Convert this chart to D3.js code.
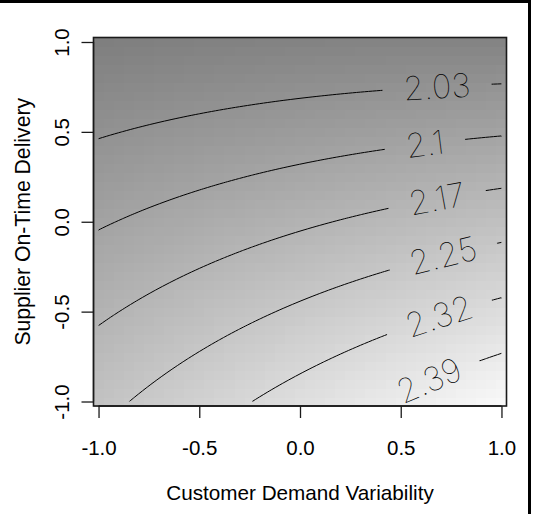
<!DOCTYPE html>
<html>
<head>
<meta charset="utf-8">
<script src="https://cdn.jsdelivr.net/npm/d3@7"></script>
<style>
  html, body { margin: 0; padding: 0; background: #fff; }
  svg { display: block; font-family: "Liberation Sans", Arial, sans-serif; }
</style>
</head>
<body>
<div id="chart"></div>
<script>
// fitted quadratic response surface, coefficients
const coefNames  = ["(Intercept)", "x", "y", "x^2", "y^2", "x:y"];
const coefValues = [2.1642, 0.061, -0.1885, -0.0065, -0.008, -0.050];

// contour levels and the text R printed on them
const contourLevels = [2.031, 2.103, 2.174, 2.246, 2.318, 2.389];
const contourLabels = ["2.03", "2.1", "2.17", "2.25", "2.32", "2.39"];
const labelAtX      = [0.68, 0.62, 0.68, 0.71, 0.69, 0.64];

const xTicks = [-1, -0.5, 0, 0.5, 1];
const yTicks = [-1, -0.5, 0, 0.5, 1];
const xTitle = "Customer Demand Variability";
const yTitle = "Supplier On-Time Delivery";

// --- layout ---
const W = 534, H = 514;
const plot = { left: 93.5, right: 506.5, top: 37.5, bottom: 406 };
const cellStep = 0.05;          // image() grid
const half = cellStep / 2;

const x = d3.scaleLinear().domain([-1 - half, 1 + half]).range([plot.left, plot.right]);
const y = d3.scaleLinear().domain([-1 - half, 1 + half]).range([plot.bottom, plot.top]);

function surface(u, v) {
    const b = coefValues;
    return b[0] + b[1] * u + b[2] * v + b[3] * u * u + b[4] * v * v + b[5] * u * v;
}

const svg = d3.select("#chart").append("svg")
    .attr("width", W).attr("height", H)
    .attr("viewBox", `0 0 ${W} ${H}`);

const defs = svg.append("defs");

// --- gray image ---
const grid = d3.range(-1, 1 + 1e-9, cellStep);
const cells = [];
grid.forEach(v => grid.forEach(u => cells.push({ u, v, z: surface(u, v) })));
const shade = d3.scaleLinear()
    .domain(d3.extent(cells, d => d.z))
    .range(["#7f7f7f", "#f8f8f8"]);

svg.append("g").attr("shape-rendering", "crispEdges")
    .selectAll("rect").data(cells).join("rect")
    .attr("x", d => x(d.u - half))
    .attr("y", d => y(d.v + half))
    .attr("width", d => x(d.u + half) - x(d.u - half) + 0.5)
    .attr("height", d => y(d.v - half) - y(d.v + half) + 0.5)
    .attr("fill", d => shade(d.z));

// --- contours ---
const nC = 101, stepC = 2 / (nC - 1);
const vals = new Array(nC * nC);
for (let j = 0; j < nC; j++)
    for (let i = 0; i < nC; i++)
        vals[j * nC + i] = surface(-1 + i * stepC, -1 + j * stepC);

const contours = d3.contours().size([nC, nC]).thresholds(contourLevels)(vals);
const toPx = d3.geoTransform({
    point(gx, gy) {
        this.stream.point(x(-1 + (gx - 0.5) * stepC), y(-1 + (gy - 0.5) * stepC));
    }
});
const path = d3.geoPath(toPx);

defs.append("clipPath").attr("id", "data-clip")
    .append("rect")
    .attr("x", x(-1)).attr("y", y(1))
    .attr("width", x(1) - x(-1)).attr("height", y(-1) - y(1));

const mask = defs.append("mask").attr("id", "label-gaps")
    .attr("maskUnits", "userSpaceOnUse")
    .attr("x", 0).attr("y", 0).attr("width", W).attr("height", H);
mask.append("rect").attr("width", W).attr("height", H).attr("fill", "white");

const lines = svg.append("g").attr("clip-path", "url(#data-clip)")
    .append("g").attr("mask", "url(#label-gaps)");
lines.selectAll("path").data(contours).join("path")
    .attr("d", path)
    .attr("fill", "none")
    .attr("stroke", "#000")
    .attr("stroke-width", 1);

// label position: point on the contour at the given x, rotated along it
function contourY(level, u) {
    let lo = -1.2, hi = 1.2;
    for (let k = 0; k < 60; k++) {
        const mid = (lo + hi) / 2;
        if (surface(u, mid) > level) lo = mid; else hi = mid;
    }
    return (lo + hi) / 2;
}
function angleAt(u, v) {
    const b = coefValues;
    const zu = b[1] + 2 * b[3] * u + b[5] * v;
    const zv = b[2] + 2 * b[4] * v + b[5] * u;
    const du = 0.01, dv = -zu / zv * du;
    return Math.atan2(y(v + dv) - y(v), x(u + du) - x(u)) * 180 / Math.PI;
}

const labelG = svg.append("g");
contourLevels.forEach((lev, i) => {
    const u = labelAtX[i];
    const v = contourY(lev, u);
    const px = x(u), py = y(v), ang = angleAt(u, v);
    const t = labelG.append("text")
        .attr("transform", `translate(${px},${py}) rotate(${ang})`)
        .attr("text-anchor", "middle")
        .attr("dy", "0.36em")
        .style("font-family", '"Inter", "DejaVu Sans", sans-serif')
        .style("font-weight", 100)
        .style("font-size", "33px")
        .attr("fill", "#000")
        .text(contourLabels[i]);
    const len = t.node().getComputedTextLength();
    const gw = len + 42, gh = 30;
    mask.append("rect")
        .attr("x", -gw / 2).attr("y", -gh / 2)
        .attr("width", gw).attr("height", gh)
        .attr("transform", `translate(${px},${py}) rotate(${ang})`)
        .attr("fill", "black");
});

// --- box ---
svg.append("rect")
    .attr("x", plot.left).attr("y", plot.top)
    .attr("width", plot.right - plot.left).attr("height", plot.bottom - plot.top)
    .attr("fill", "none").attr("stroke", "#1a1a1a").attr("stroke-width", 1.6);

// --- axes ---
const fmt = d => d.toFixed(1);

const xAxis = svg.append("g")
    .attr("transform", `translate(0,${plot.bottom})`)
    .call(d3.axisBottom(x).tickValues(xTicks).tickSize(12).tickPadding(22).tickFormat(fmt));
xAxis.select(".domain").attr("d", `M${x(-1)},0H${x(1)}`).attr("stroke", "#1a1a1a").attr("stroke-width", 1.3);
xAxis.selectAll(".tick line").attr("stroke", "#1a1a1a").attr("stroke-width", 1.3);
xAxis.selectAll(".tick text")
    .attr("fill", "#000")
    .style("font-family", '"Liberation Sans", Arial, sans-serif')
    .style("font-size", "20.5px");

const yAxis = svg.append("g")
    .attr("transform", `translate(${plot.left},0)`)
    .call(d3.axisLeft(y).tickValues(yTicks).tickSize(12).tickFormat(fmt));
yAxis.select(".domain").attr("d", `M0,${y(-1)}V${y(1)}`).attr("stroke", "#1a1a1a").attr("stroke-width", 1.3);
yAxis.selectAll(".tick line").attr("stroke", "#1a1a1a").attr("stroke-width", 1.3);
yAxis.selectAll(".tick text")
    .attr("x", 0).attr("dy", 0)
    .attr("text-anchor", "middle")
    .attr("transform", `translate(${69 - plot.left},0) rotate(-90)`)
    .attr("fill", "#000")
    .style("font-family", '"Liberation Sans", Arial, sans-serif')
    .style("font-size", "20.5px");

// --- titles ---
svg.append("text")
    .attr("x", (plot.left + plot.right) / 2).attr("y", 500)
    .attr("text-anchor", "middle")
    .style("font-size", "20.7px")
    .text(xTitle);

svg.append("text")
    .attr("transform", `translate(30,${(plot.top + plot.bottom) / 2}) rotate(-90)`)
    .attr("text-anchor", "middle")
    .style("font-size", "21.2px")
    .text(yTitle);

// --- outer frame (top and right edges only) ---
svg.append("rect").attr("x", 0).attr("y", 0).attr("width", 531).attr("height", 3).attr("fill", "#000");
svg.append("rect").attr("x", 528).attr("y", 0).attr("width", 3).attr("height", H).attr("fill", "#000");
</script>
</body>
</html>
